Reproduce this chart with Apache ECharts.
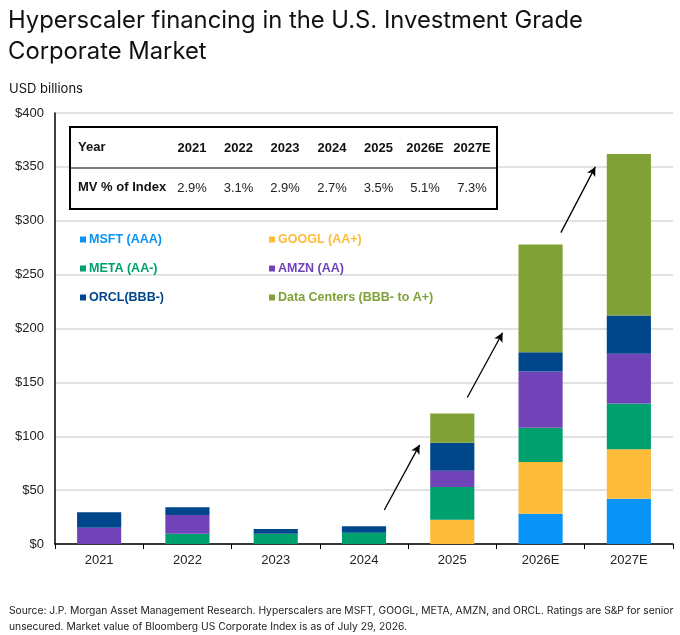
<!DOCTYPE html>
<html>
<head>
<meta charset="utf-8">
<script src="https://cdn.jsdelivr.net/npm/echarts@6/dist/echarts.min.js"></script>
<style>
  html, body { margin: 0; padding: 0; background: #fff; }
  #main { width: 680px; height: 635px; }
</style>
</head>
<body>
<div id="main"></div>
<script>
// categories + stacked values (USD billions)
const years = ['2021', '2022', '2023', '2024', '2025', '2026E', '2027E'];
const msft = [0, 0, 0, 0, 0, 28, 42];
const googl = [0, 0, 0, 0, 22.5, 48, 46];
const meta = [0, 9.5, 9.5, 10.5, 30.5, 32, 42.5];
const amzn = [15, 17.5, 0, 0, 15, 52, 46];
const orcl = [14.5, 7, 4.5, 6, 26, 18, 35.5];
const dataCenters = [0, 0, 0, 0, 27, 100, 150];

// table above the bars
const mvPct = ['2.9%', '3.1%', '2.9%', '2.7%', '3.5%', '5.1%', '7.3%'];

// growth arrows, [x, y] in category-index / USD units
const arrows = [
  [[3.23, 31.5], [3.63, 92]],
  [[4.17, 136], [4.57, 196]],
  [[5.23, 289], [5.62, 350]]
];

const yTicks = [0, 50, 100, 150, 200, 250, 300, 350, 400];

const seriesDefs = [
  { name: 'MSFT (AAA)', data: msft, color: '#0A93F7' },
  { name: 'GOOGL (AA+)', data: googl, color: '#FDBB3A' },
  { name: 'META (AA-)', data: meta, color: '#00A06E' },
  { name: 'AMZN (AA)', data: amzn, color: '#7044B8' },
  { name: 'ORCL(BBB-)', data: orcl, color: '#00468B' },
  { name: 'Data Centers (BBB- to A+)', data: dataCenters, color: '#7FA135' }
];

const font = '"Liberation Sans", Arial, sans-serif';

var myChart = echarts.init(document.getElementById('main'));

function legendItem(s) {
  return { name: s.name, textStyle: { color: s.color } };
}

function legendBlock(left, names) {
  return {
    orient: 'vertical',
    left: left,
    top: 228,
    itemWidth: 6,
    itemHeight: 6,
    itemGap: 16,
    icon: 'rect',
    selectedMode: false,
    textStyle: { fontFamily: font, fontSize: 12.5, fontWeight: 'bold', padding: [0, 0, 0, -2] },
    data: names.map(n => legendItem(seriesDefs.find(s => s.name === n)))
  };
}

// table drawn with graphics
let colX = [192, 238.5, 285, 332, 378.5, 425, 472];
let tableEls = [
  { type: 'rect', shape: { x: 70, y: 127, width: 427, height: 82 },
    style: { fill: '#fff', stroke: '#000', lineWidth: 2 }, z: 10 },
  { type: 'line', shape: { x1: 70, y1: 168, x2: 497, y2: 168 },
    style: { stroke: '#000', lineWidth: 1.2 }, z: 11 },
  { type: 'text', left: 78, top: 141, z: 11,
    style: { text: 'Year', font: 'bold 13px ' + font, fill: '#111' } },
  { type: 'text', left: 78, top: 181, z: 11,
    style: { text: 'MV % of Index', font: 'bold 13px ' + font, fill: '#111' } }
];
years.forEach(function (y, i) {
  tableEls.push({ type: 'text', x: colX[i], y: 148, z: 11,
    style: { text: y, font: 'bold 13px ' + font, fill: '#111', align: 'center', verticalAlign: 'middle' } });
  tableEls.push({ type: 'text', x: colX[i], y: 188, z: 11,
    style: { text: mvPct[i], font: '13px ' + font, fill: '#222', align: 'center', verticalAlign: 'middle' } });
});

let series = seriesDefs.map(function (s) {
  return {
    name: s.name,
    type: 'bar',
    stack: 'total',
    barWidth: '50%',
    itemStyle: { color: s.color },
    emphasis: { disabled: true },
    data: s.data
  };
});

// dummy series on hidden value x axis carrying the arrows
series.push({
  type: 'scatter',
  xAxisIndex: 1,
  symbolSize: 0,
  data: [],
  silent: true,
  markLine: {
    silent: true,
    symbol: ['none', 'arrow'],
    symbolSize: [7, 9],
    label: { show: false },
    lineStyle: { color: '#000', type: 'solid', width: 1.3 },
    data: arrows.map(a => [{ coord: a[0] }, { coord: a[1] }])
  }
});

let option = {
  animation: false,
  backgroundColor: '#fff',
  title: [{
    text: 'Hyperscaler financing in the U.S. Investment Grade\nCorporate Market',
    left: 3,
    top: 0,
    textStyle: { fontFamily: 'Inter, sans-serif', fontSize: 23.8, fontWeight: 'normal', color: '#111', lineHeight: 31 }
  }, {
    text: 'USD billions',
    left: 4,
    top: 78,
    textStyle: { fontFamily: 'Inter, sans-serif', fontSize: 13, fontWeight: 'normal', color: '#111' }
  }, {
    text: 'Source: J.P. Morgan Asset Management Research. Hyperscalers are MSFT, GOOGL, META, AMZN, and ORCL. Ratings are S&P for senior\nunsecured. Market value of Bloomberg US Corporate Index is as of July 29, 2026.',
    left: 4,
    top: 598,
    textStyle: { fontFamily: 'Inter, sans-serif', fontSize: 10.3, fontWeight: 'normal', color: '#222', lineHeight: 16 }
  }],
  legend: [
    legendBlock(75, ['MSFT (AAA)', 'META (AA-)', 'ORCL(BBB-)']),
    legendBlock(264, ['GOOGL (AA+)', 'AMZN (AA)', 'Data Centers (BBB- to A+)'])
  ],
  grid: { left: 55, right: 7, top: 113, bottom: 91, containLabel: false },
  xAxis: [{
    type: 'category',
    data: years,
    axisLine: { lineStyle: { color: '#000', width: 1.5 } },
    axisTick: { show: true, inside: false, length: 5, alignWithLabel: false, lineStyle: { color: '#000' } },
    axisLabel: { fontFamily: font, fontSize: 13, color: '#222', margin: 10 }
  }, {
    type: 'value',
    min: -0.5,
    max: 6.5,
    show: false
  }],
  yAxis: {
    type: 'value',
    min: 0,
    max: yTicks[yTicks.length - 1],
    interval: 50,
    axisLine: { show: true, onZero: false, lineStyle: { color: '#000', width: 1.5 } },
    axisTick: { show: false },
    splitLine: { lineStyle: { color: '#d9d9d9', width: 1.5 } },
    axisLabel: { fontFamily: font, fontSize: 13, color: '#222', margin: 11, formatter: v => '$' + v }
  },
  graphic: tableEls,
  series: series
};

myChart.setOption(option);
</script>
</body>
</html>
